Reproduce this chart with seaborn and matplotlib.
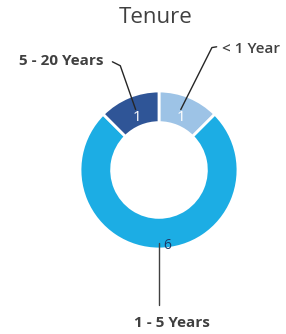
import numpy as np
import seaborn as sns
import matplotlib.pyplot as plt

# data
categories = ["< 1 Year", "1 - 5 Years", "5 - 20 Years"]
counts = [1, 6, 1]
colors = ["#9DC3E6", "#1CADE4", "#2F5597"]

sns.set_theme(style="white")
plt.rcParams['font.family'] = ['Open Sans', 'DejaVu Sans']

fig = plt.figure(figsize=(2.86, 3.34), dpi=100)
ax = fig.add_axes([0, 0, 1, 1])

wedges, _ = ax.pie(counts, colors=colors, startangle=90, counterclock=False,
                   radius=1.0, wedgeprops=dict(width=0.4, edgecolor="white", linewidth=2))

ax.set_xlim(-2.013, 1.608)
ax.set_ylim(-2.076, 2.152)
ax.set_aspect("equal")
ax.axis("off")

ax.text(-0.04, 1.93, "Tenure", ha="center", va="center", fontsize=16, color="#404040")

def mid(w, r):
    a = np.deg2rad((w.theta1 + w.theta2) / 2)
    return r * np.cos(a), r * np.sin(a)

# values inside slices
for w, v, c in zip(wedges, counts, colors):
    if v > 1:
        continue
    x, y = mid(w, 0.72)
    ax.text(x, y, str(v), ha="center", va="center", fontsize=11, color="white")

# < 1 Year leader
x0, y0 = mid(wedges[0], 0.72)
ax.plot([x0, 0.67, 0.73], [y0 + 0.1, 1.55, 1.56], color="#262626", lw=1)
ax.text(0.80, 1.53, categories[0], ha="left", va="center", fontsize=11,
        fontweight="semibold", color="#404040")

# 5 - 20 Years leader
x2, y2 = mid(wedges[2], 0.72)
ax.plot([x2 - 0.02, -0.49, -0.59], [y2 + 0.1, 1.32, 1.37], color="#262626", lw=1)
ax.text(-0.70, 1.38, categories[2], ha="right", va="center", fontsize=11,
        fontweight="bold", color="#404040")

# 1 - 5 Years leader
ax.plot([0, 0], [-0.92, -1.71], color="#404040", lw=1)
ax.text(0.11, -0.95, str(counts[1]), ha="center", va="center", fontsize=10, color="#1F3864")
ax.text(0.17, -1.94, categories[1], ha="center", va="center", fontsize=11,
        fontweight="bold", color="#404040")

fig.savefig("out.png", dpi=100)
